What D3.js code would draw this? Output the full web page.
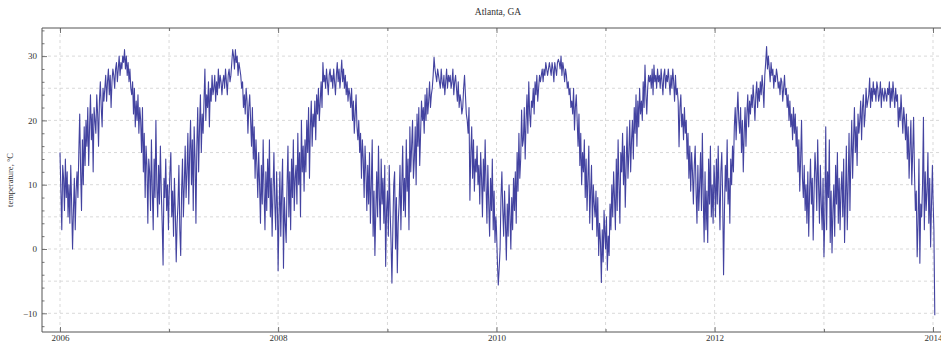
<!DOCTYPE html>
<html>
<head>
<meta charset="utf-8">
<script src="https://cdn.jsdelivr.net/npm/d3@7"></script>
<style>
html,body{margin:0;padding:0;background:#fff;}
svg{display:block;}
</style>
</head>
<body>
<svg id="chart" width="941" height="342"></svg>
<script>
// Daily mean temperature (°C), sampled every 3 days from Jan 1 of each year
const t2006 = [15,9,3,13,11,6,14,8,12,5, 10,4,13,7,0,6,11,3,9,12, 8,15,21,12,6,17,10,19,13,20,
  16,22,13,19,24,17,21,12,22,20, 18,24,21,16,23,26,22,19,25,23, 25,27,23,26,28,24,27,22,26,28,
  27,25,28,29,26,28,30,27,29,28, 30,29,31,28,30,27,29,26,28,25, 24,26,21,25,19,23,20,24,18,22,
  20,15,22,12,18,8,16,13,4,14, 12,6,17,9,3,14,8,20,10,5, 13,7,16,9,4,-2.5,11,8,14,6,10,3];
const t2007 = [8,12,15,5,9,2,11,6,-2,4, 7,13,3,-1,9,14,5,10,16,8, 12,18,7,15,20,10,17,6,19,14,
  4,16,22,12,19,24,15,21,18,23, 28,20,24,22,26,19,25,23,27,24, 25,27,23,26,24,28,25,27,26,24,
  26,27,25,28,26,24,27,28,26,27, 29,31,30,28,31,29,30,27,29,28, 27,25,26,22,24,21,25,23,18,22,
  24,20,16,22,14,19,11,17,13,8, 15,10,4,13,7,17,9,3,12,6, 14,8,17,5,11,2,9,15,7,3,12,6];
const t2008 = [-3.4,5,12,2,9,14,-3,8,4,1, 10,16,5,12,3,14,8,17,6,11, 13,7,18,10,15,5,20,12,16,9,
  17,12,20,15,22,11,19,23,16,21, 19,23,17,24,21,25,20,23,26,22, 29,26,27,25,28,26,24,27,28,26,
  27,25,28,26,24,27,29,26,28,25, 27,29.4,26,28,25,27,24,26,23,25, 24,22,25,20,23,18,21,24,19,17,
  20,15,18,11,17,14,8,16,12,6, 13,7,15,4,10,17,2,9,-1,6, 12,5,16,8,3,14,7,11,4,13,-2.7,6];
const t2009 = [9,2,13,6,1,-5.3,3,10,12,0, 8,-3.7,4,7,13,3,10,16,6,11, 5,17,9,14,3,19,12,16,20,11,
  14,19,10,21,16,22,13,18,23,20, 22,18,24,20,25,21,23,26,22,24, 25,27,29.8,28,27,26,28,27,26,25,
  28,26,25,27,24,26,28,25,27,26, 27,25,26,28,24,26,27,25,23,26, 22,24,23,21,22,25,27,24,21,20,
  18,22,7.6,15,19,11,17,9,14,12, 16,10,13,7,15,11,5,14,9,17, 10,4,13,7,2,11,6,14,3,9,1,5];
const t2010 = [3,-2,-5.6,-3,0,8,12,6,2,9, 4,-1.7,7,2,10,5,0,8,3,11, 6,12,4,15,9,18,11,14,21.6,16,
  17,22,14,20,24,18,26,21,19,23, 22,25,21,26,24,27,23,25,27,26, 27,28,26,28,27,29,28,27,28,29,
  28,27,29,28,26,29,28,27,29,29.5, 29,28,30,27,29,28,26,28,27,25, 26,24,25,22,23,21,25,18.5,22,24,
  20,16,21,13,18,10,15,12,17,8, 14,6,11,16,4,9,13,3,10,7, 5,9,2,8,-1,4,1,-5.2,3,-2,6,2];
const t2011 = [0,5,-3.3,2,-1,7,3,10,5,12, 8,3,14,6,17,10,4,15,12,18, 10,16,6.5,13,19,11,15,20,12,17,
  20,14,22,18,24,16,23,19,25,21, 23,20,26,22,28.6,24,21,25,27,26, 27,25,28,24,28.6,26,27,25,28,26,
  27,25,28,26,24,27,28,25,27,26, 28,26,24,27,25,28,26,23,27,24, 25,23,15.9,22,24,19,21,17,22,18,
  20,14,18,11,16,9,15,12,7,13, 16,9,4,13,6,10,15,6,18,8, 1.1,12,3,9,1,14,7,16,5,10,4,13];
const t2012 = [11,5,14,7,16,9,3,12,15,8, -4,6,13,9,17,7,11,4,14,10, 16,12,19,22,17,21,24.4,20,18,22,
  15,20,12,18,22,16,21,24,19,23, 21,24,22,25.5,23,20,24,26,22,25, 23,26,24,27,25,22,27,29,31.5,28,
  30,28,26,29,27,28,25,27,26,28, 27,25,26,24,26.6,26,23,25,27,24, 25,22,24,20,23,19,21,17,22,18,
  21,16,19,12,17,9,14,20,11,8, 13,6,10,4,12,2,9,14,7,11, 1.4,9,15,12,6,17,10,4,13,7,3,11];
const t2013 = [-1.2,5,19,3,12,8,17,1,9,-0.6, 6,10,2,13,7,15,4,11,3,9, 12,5,14,1,8,16,3,10,18,6,
  14,20,11,17,22,15,19,13,21,18, 20,23,17,22,24,19,21,25,22,23, 24,26.6,22,25,23,26,24,25,23,26,
  25,23,24,26,22,25,24,23,25,24, 23,25,24,26,22,25,23,26,24,22, 25,23,24,19,22,20,24,21,18,22,
  20,17,21,14,19,11,16,20,10,15, 20.5,12,6,9,-1.2,4,14,-2.2,7,5, 10,20.5,3,12,6,9,15,4,11,0.3,7,13];
const t2014 = [8,3,-10.3];
const seriesYears = [2006,2007,2008,2009,2010,2011,2012,2013,2014];
const seriesValues = [t2006,t2007,t2008,t2009,t2010,t2011,t2012,t2013,t2014];
const yMajorTicks = [-10,0,10,20,30];
const xLabelYears = [2006,2008,2010,2012,2014];
const titleText = "Atlanta, GA";
const yLabelText = "temperature, °C";

(function () {
// Build the table of points
const data = [];
seriesYears.forEach((yr, k) => {
  seriesValues[k].forEach((v, i) => {
    data.push({date: new Date(Date.UTC(yr, 0, 1 + 3 * i)), value: v});
  });
});

const svg = d3.select("#chart");
const pL = 42, pR = 941, pT = 28, pB = 332;
const fontFam = "'Liberation Serif','Times New Roman',serif";

const x = d3.scaleUtc()
  .domain([new Date(Date.UTC(2006,0,1)), new Date(Date.UTC(2014,0,1))])
  .range([60, 933]);
const y = d3.scaleLinear().domain([0, 30]).range([249, 56.1]);

const yearTicks = d3.range(2006, 2015).map(yr => new Date(Date.UTC(yr,0,1)));
const xMajor = xLabelYears.map(yr => new Date(Date.UTC(yr,0,1)));
const xMinor = yearTicks.filter(d => d.getUTCFullYear() % 2 === 1);

// Grid
const grid = svg.append("g").attr("stroke", "#cfcfcf").attr("stroke-width", 0.8)
  .attr("stroke-dasharray", "3,3").attr("fill", "none");
yearTicks.forEach(d => {
  grid.append("line").attr("x1", x(d)).attr("x2", x(d)).attr("y1", pT).attr("y2", pB);
});
d3.range(-10, 31, 5).forEach(v => {
  grid.append("line").attr("x1", pL).attr("x2", pR).attr("y1", y(v)).attr("y2", y(v));
});

// Data line
svg.append("path")
  .datum(data)
  .attr("fill", "none")
  .attr("stroke", "#4343a0")
  .attr("stroke-width", 1.1)
  .attr("stroke-linejoin", "round")
  .attr("d", d3.line().x(d => x(d.date)).y(d => y(d.value)));

// Axes
function styleAxis(g) {
  g.select(".domain").remove();
  g.selectAll(".tick line").attr("stroke", "#555").attr("stroke-width", 0.8);
  g.selectAll(".tick text").attr("fill", "#333").attr("font-family", fontFam).attr("font-size", 9);
}
svg.append("g").attr("transform", `translate(${pL},0)`)
  .call(d3.axisLeft(y).tickValues(yMajorTicks).tickSize(-5).tickPadding(5)
    .tickFormat(d => d < 0 ? "\u2212" + Math.abs(d) : String(d)))
  .call(styleAxis);
svg.append("g").attr("transform", `translate(${pL},0)`)
  .call(d3.axisLeft(y).tickValues(d3.range(-12, 35, 2).filter(v => v % 10 !== 0)).tickSize(-2.5).tickFormat(""))
  .call(styleAxis);
svg.append("g").attr("transform", `translate(0,${pB})`)
  .call(d3.axisBottom(x).tickValues(xMajor).tickSize(-5).tickPadding(2.5).tickFormat(d3.utcFormat("%Y")))
  .call(styleAxis);
svg.append("g").attr("transform", `translate(0,${pB})`)
  .call(d3.axisBottom(x).tickValues(xMinor).tickSize(-3).tickFormat(""))
  .call(styleAxis);
svg.append("g").attr("transform", `translate(0,${pT})`)
  .call(d3.axisTop(x).tickValues(xMajor).tickSize(-5).tickFormat(""))
  .call(styleAxis);
svg.append("g").attr("transform", `translate(0,${pT})`)
  .call(d3.axisTop(x).tickValues(xMinor).tickSize(-3).tickFormat(""))
  .call(styleAxis);

// Frame
const frame = svg.append("g").attr("stroke", "#555").attr("stroke-width", 1).attr("fill", "none");
frame.append("line").attr("x1", pL).attr("x2", pL).attr("y1", pT).attr("y2", pB);
frame.append("line").attr("x1", pL).attr("x2", pR).attr("y1", pT).attr("y2", pT);
frame.append("line").attr("x1", pL).attr("x2", pR).attr("y1", pB).attr("y2", pB);

// Title and y label
svg.append("text").attr("x", 498).attr("y", 15).attr("text-anchor", "middle")
  .attr("font-family", fontFam).attr("font-size", 9.5).attr("fill", "#333").text(titleText);
svg.append("text").attr("transform", `translate(13,${(pT+pB)/2}) rotate(-90)`)
  .attr("text-anchor", "middle").attr("font-family", fontFam).attr("font-size", 8.5)
  .attr("fill", "#333").text(yLabelText);
})();
</script>
</body>
</html>
